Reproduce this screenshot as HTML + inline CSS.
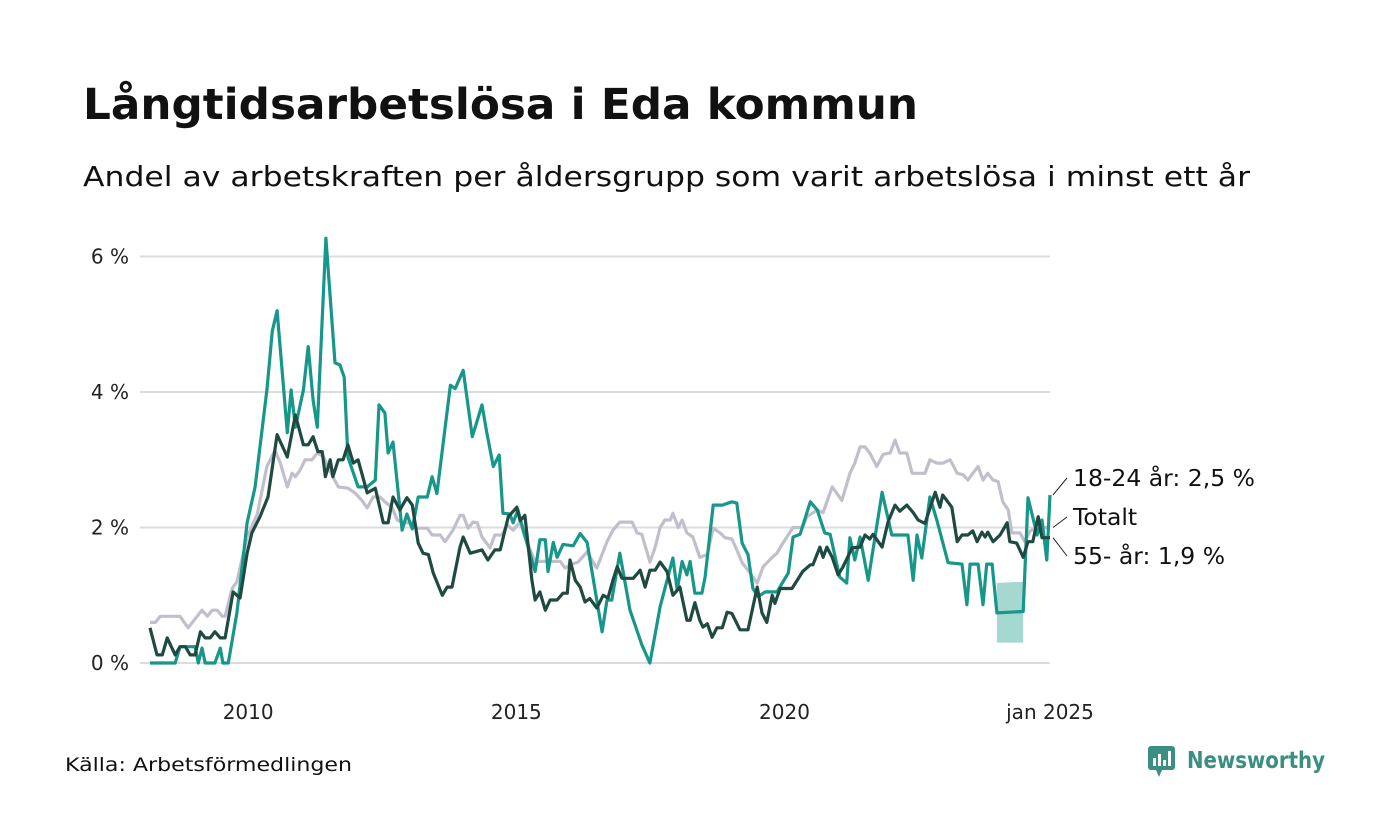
<!DOCTYPE html>
<html><head><meta charset="utf-8"><style>
html,body{margin:0;padding:0;background:#fff;}
svg{display:block;font-family:"DejaVu Sans","Liberation Sans",sans-serif;}
</style></head><body>
<svg id="chart" width="1400" height="840" viewBox="0 0 1400 840">
<rect width="1400" height="840" fill="#fff"/>
<text x="83" y="119" font-size="43" font-weight="bold" fill="#111" textLength="835" lengthAdjust="spacingAndGlyphs">Långtidsarbetslösa i Eda kommun</text>
<text x="83" y="186" font-size="28" fill="#111" textLength="1167" lengthAdjust="spacingAndGlyphs">Andel av arbetskraften per åldersgrupp som varit arbetslösa i minst ett år</text>
<g id="grid"></g>
<g id="marks"></g>
<g id="labels"></g>
<text x="65" y="771" font-size="19" fill="#111" textLength="287" lengthAdjust="spacingAndGlyphs">Källa: Arbetsförmedlingen</text>
<g>
<rect x="1148" y="746" width="27" height="24" rx="3" fill="#3a8f80"/>
<path d="M1156 770 L1162 770 L1159 777 Z" fill="#3a8f80"/>
<rect x="1153" y="758" width="3" height="8" fill="#fff"/>
<rect x="1158" y="754" width="3" height="12" fill="#fff"/>
<rect x="1163" y="760" width="3" height="6" fill="#fff"/>
<rect x="1168" y="751" width="3" height="15" fill="#fff"/>
<text x="1187" y="768" font-size="23" font-weight="bold" fill="#3a8f80" textLength="138" lengthAdjust="spacingAndGlyphs">Newsworthy</text>
</g>
</svg>
<script>
const yTicks = [0, 2, 4, 6];
const yTickLabels = ["0 %", "2 %", "4 %", "6 %"];
const xTicks = [2010, 2015, 2020, 2024.95];
const xTickLabels = ["2010", "2015", "2020", "jan 2025"];

const youthDates = [2008.17,2008.64,2008.73,2009.01,2009.07,2009.14,2009.20,2009.38,2009.48,2009.53,2009.63,2009.79,2009.98,2010.13,2010.35,2010.45,2010.54,2010.73,2010.80,2010.88,2011.03,2011.12,2011.21,2011.29,2011.45,2011.62,2011.71,2011.79,2011.86,2012.05,2012.22,2012.37,2012.44,2012.55,2012.61,2012.70,2012.87,2012.96,2013.06,2013.17,2013.34,2013.43,2013.52,2013.77,2013.86,2014.01,2014.18,2014.36,2014.45,2014.57,2014.68,2014.75,2014.88,2014.94,2015.03,2015.13,2015.35,2015.44,2015.54,2015.59,2015.69,2015.76,2015.87,2016.06,2016.19,2016.32,2016.60,2016.69,2016.78,2016.93,2017.12,2017.34,2017.49,2017.68,2017.92,2018.00,2018.09,2018.18,2018.24,2018.33,2018.46,2018.52,2018.67,2018.84,2019.02,2019.11,2019.21,2019.32,2019.41,2019.51,2019.64,2019.86,2020.07,2020.16,2020.29,2020.48,2020.61,2020.75,2020.85,2021.03,2021.16,2021.22,2021.31,2021.41,2021.56,2021.82,2022.00,2022.30,2022.40,2022.47,2022.56,2022.71,2022.84,2023.05,2023.31,2023.40,2023.46,2023.61,2023.70,2023.77,2023.87,2023.96,2024.45,2024.54,2024.71,2024.80,2024.89,2024.95];
const youthValues = [0,0,0.24,0.24,0,0.22,0,0,0.22,0,0,0.74,2.07,2.6,4.03,4.9,5.2,3.4,4.03,3.48,4.03,4.67,3.88,3.48,6.27,4.43,4.4,4.22,3.04,2.6,2.6,2.7,3.81,3.69,3.1,3.26,1.96,2.2,1.98,2.45,2.45,2.75,2.5,4.1,4.05,4.32,3.34,3.81,3.4,2.9,3.07,2.21,2.2,2.07,2.26,1.96,1.35,1.82,1.82,1.35,1.78,1.56,1.75,1.73,1.91,1.78,0.46,0.93,0.93,1.62,0.78,0.27,0,0.83,1.55,1.08,1.5,1.3,1.5,1.03,1.03,1.27,2.33,2.33,2.38,2.36,1.77,1.6,1.1,0.98,1.05,1.05,1.33,1.86,1.9,2.38,2.26,1.92,1.9,1.27,1.18,1.85,1.52,1.86,1.22,2.52,1.89,1.89,1.22,1.89,1.55,2.45,2.11,1.48,1.46,0.86,1.46,1.46,0.86,1.46,1.46,0.74,0.76,2.44,1.89,2.11,1.52,2.48];

const olderDates = [2008.17,2008.30,2008.40,2008.49,2008.64,2008.73,2008.83,2008.92,2009.01,2009.11,2009.20,2009.29,2009.38,2009.48,2009.57,2009.72,2009.85,2009.98,2010.07,2010.22,2010.37,2010.54,2010.73,2010.88,2011.03,2011.12,2011.21,2011.30,2011.38,2011.44,2011.53,2011.58,2011.68,2011.77,2011.86,2011.96,2012.05,2012.22,2012.37,2012.52,2012.61,2012.70,2012.83,2012.96,2013.06,2013.17,2013.26,2013.36,2013.45,2013.62,2013.71,2013.80,2013.95,2014.01,2014.14,2014.36,2014.47,2014.60,2014.70,2014.85,2015.01,2015.07,2015.16,2015.29,2015.35,2015.44,2015.54,2015.63,2015.76,2015.87,2015.95,2016.00,2016.10,2016.19,2016.28,2016.37,2016.50,2016.62,2016.71,2016.80,2016.88,2016.97,2017.18,2017.31,2017.40,2017.49,2017.59,2017.68,2017.81,2017.92,2018.05,2018.18,2018.24,2018.33,2018.42,2018.48,2018.56,2018.65,2018.74,2018.84,2018.93,2019.02,2019.17,2019.32,2019.49,2019.58,2019.67,2019.77,2019.82,2019.92,2020.14,2020.34,2020.48,2020.53,2020.66,2020.72,2020.79,2020.89,2021.00,2021.09,2021.26,2021.41,2021.50,2021.59,2021.65,2021.82,2021.93,2022.06,2022.15,2022.28,2022.40,2022.49,2022.62,2022.81,2022.90,2022.95,2023.12,2023.22,2023.31,2023.42,2023.51,2023.59,2023.68,2023.74,2023.79,2023.89,2024.02,2024.15,2024.20,2024.33,2024.45,2024.54,2024.63,2024.73,2024.80,2024.95];
const olderValues = [0.52,0.12,0.12,0.37,0.12,0.24,0.24,0.12,0.12,0.46,0.37,0.37,0.46,0.37,0.37,1.05,0.96,1.62,1.92,2.16,2.45,3.37,3.04,3.66,3.22,3.22,3.34,3.12,3.12,2.75,3.0,2.75,3.0,3.0,3.22,2.95,3.0,2.51,2.58,2.07,2.07,2.45,2.26,2.44,2.33,1.77,1.62,1.6,1.33,1.0,1.12,1.12,1.71,1.86,1.62,1.67,1.52,1.67,1.67,2.16,2.3,2.1,2.18,1.22,0.93,1.05,0.78,0.93,0.93,1.03,1.03,1.52,1.22,1.12,0.9,0.95,0.81,1.0,0.96,1.22,1.42,1.25,1.25,1.37,1.12,1.37,1.37,1.49,1.35,1.0,1.12,0.63,0.63,0.89,0.63,0.53,0.58,0.38,0.52,0.52,0.75,0.73,0.49,0.49,1.12,0.74,0.6,1.0,0.88,1.1,1.1,1.35,1.45,1.45,1.71,1.56,1.71,1.56,1.3,1.42,1.7,1.71,1.89,1.83,1.9,1.71,2.08,2.33,2.24,2.33,2.22,2.11,2.06,2.52,2.3,2.48,2.3,1.79,1.89,1.89,1.95,1.79,1.93,1.86,1.93,1.79,1.89,2.07,1.79,1.77,1.56,1.79,1.79,2.16,1.85,1.85];

const totalDates = [2008.17,2008.27,2008.36,2008.73,2008.88,2009.14,2009.24,2009.33,2009.42,2009.52,2009.57,2009.70,2009.79,2009.98,2010.17,2010.35,2010.50,2010.60,2010.73,2010.82,2010.88,2010.97,2011.06,2011.19,2011.29,2011.40,2011.58,2011.68,2011.86,2011.99,2012.12,2012.22,2012.33,2012.46,2012.55,2012.68,2012.78,2012.89,2013.02,2013.15,2013.34,2013.43,2013.58,2013.67,2013.82,2013.95,2014.01,2014.10,2014.19,2014.27,2014.36,2014.51,2014.60,2014.73,2014.83,2014.94,2015.07,2015.16,2015.26,2015.35,2015.44,2015.63,2015.82,2015.91,2016.00,2016.15,2016.32,2016.50,2016.69,2016.80,2016.93,2017.16,2017.25,2017.34,2017.49,2017.59,2017.68,2017.77,2017.87,2017.92,2018.02,2018.09,2018.18,2018.29,2018.42,2018.56,2018.67,2018.80,2018.89,2019.02,2019.11,2019.21,2019.32,2019.49,2019.60,2019.77,2019.86,2019.97,2020.16,2020.33,2020.42,2020.61,2020.72,2020.89,2021.07,2021.22,2021.31,2021.41,2021.50,2021.59,2021.72,2021.84,2021.97,2022.06,2022.15,2022.28,2022.38,2022.62,2022.71,2022.84,2022.95,2023.09,2023.22,2023.33,2023.42,2023.51,2023.61,2023.70,2023.79,2023.89,2023.98,2024.07,2024.17,2024.24,2024.39,2024.48,2024.58,2024.73,2024.95];
const totalValues = [0.6,0.6,0.69,0.69,0.52,0.78,0.69,0.78,0.78,0.69,0.69,1.1,1.2,1.86,2.2,2.9,3.14,2.95,2.6,2.8,2.75,2.85,3.0,3.0,3.1,3.05,2.75,2.6,2.58,2.51,2.4,2.29,2.45,2.45,2.38,2.3,2.11,2.07,2.07,1.99,1.99,1.89,1.89,1.79,1.96,2.18,2.18,1.99,2.08,2.07,1.86,1.7,1.89,1.89,2.04,1.96,2.08,1.86,1.67,1.49,1.5,1.5,1.5,1.4,1.45,1.49,1.64,1.4,1.79,1.96,2.08,2.08,1.92,1.9,1.49,1.71,2.0,2.11,2.11,2.21,2.0,2.11,1.92,1.86,1.56,1.6,1.99,1.92,1.85,1.83,1.67,1.48,1.37,1.18,1.42,1.56,1.62,1.77,2.0,2.0,2.16,2.26,2.22,2.6,2.4,2.8,2.95,3.19,3.19,3.1,2.9,3.08,3.1,3.29,3.1,3.1,2.8,2.8,3.0,2.95,2.95,3.0,2.8,2.78,2.7,2.8,2.9,2.7,2.8,2.7,2.68,2.38,2.26,1.92,1.92,1.79,1.95,2.0,2.0];

const bandDates = [2023.96, 2024.45];
const bandLow = [0.3, 0.3];
const bandHigh = [1.18, 1.2];

const labelTexts = ["18-24 år: 2,5 %", "Totalt", "55- år: 1,9 %"];

const NS = "http://www.w3.org/2000/svg";
const X0 = 2008.17, X1 = 2024.95, PX0 = 150, PX1 = 1050;
function xs(t){ return PX0 + (t - X0) / (X1 - X0) * (PX1 - PX0); }
function ys(v){ return 663 - v * 67.75; }
function mk(tag, attrs, parent){ const e = document.createElementNS(NS, tag); for (const k in attrs) e.setAttribute(k, attrs[k]); parent.appendChild(e); return e; }

const grid = document.getElementById('grid');
yTicks.forEach((v, i) => {
  const l = mk('line', {x1: 140, x2: 1050, y1: ys(v), y2: ys(v), stroke: '#dcdbe0', 'stroke-width': 2}, grid);
  
  
  const t = mk('text', {x: 129, y: ys(v) + 7, 'text-anchor': 'end', 'font-size': 20, fill: '#222'}, grid);
  t.textContent = yTickLabels[i];
  
  
});
xTicks.forEach((v, i) => {
  const t = mk('text', {x: xs(v), y: 719, 'text-anchor': 'middle', 'font-size': 20, fill: '#222'}, grid);
  t.textContent = xTickLabels[i];
  
  
});

const marks = document.getElementById('marks');
let bp = '';
bandDates.forEach((d, i) => { bp += (i ? 'L' : 'M') + xs(d) + ' ' + ys(bandHigh[i]); });
for (let i = bandDates.length - 1; i >= 0; i--) bp += 'L' + xs(bandDates[i]) + ' ' + ys(bandLow[i]);
const band = mk('path', {d: bp + 'Z', fill: '#a5d8d1'}, marks);



function line(dates, vals, color, name){
  const n = Math.min(dates.length, vals.length);
  let d = '';
  for (let i = 0; i < n; i++) d += (i ? 'L' : 'M') + xs(dates[i]).toFixed(1) + ' ' + ys(vals[i]).toFixed(1);
  const p = mk('path', {d: d, fill: 'none', stroke: color, 'stroke-width': 3.2, 'stroke-linejoin': 'round'}, marks);
  
  
  return [xs(dates[n-1]), ys(vals[n-1])];
}
const endT = line(totalDates, totalValues, '#c2bfcc', 'line-totalt');
const endY = line(youthDates, youthValues, '#17968a', 'line-18-24');
const endO = line(olderDates, olderValues, '#1f4a41', 'line-55-plus');

const labels = document.getElementById('labels');
const ends = [endY, endT, endO];
const labelY = [478, 517, 556];
labelTexts.forEach((txt, i) => {
  const l = mk('line', {x1: ends[i][0] + 3, y1: ends[i][1], x2: 1067, y2: labelY[i], stroke: '#222', 'stroke-width': 1}, labels);
  
  
  const t = mk('text', {x: 1073, y: labelY[i] + 8, 'font-size': 23.5, fill: '#111'}, labels);
  t.textContent = txt;
  
  
});
</script>
</body></html>
